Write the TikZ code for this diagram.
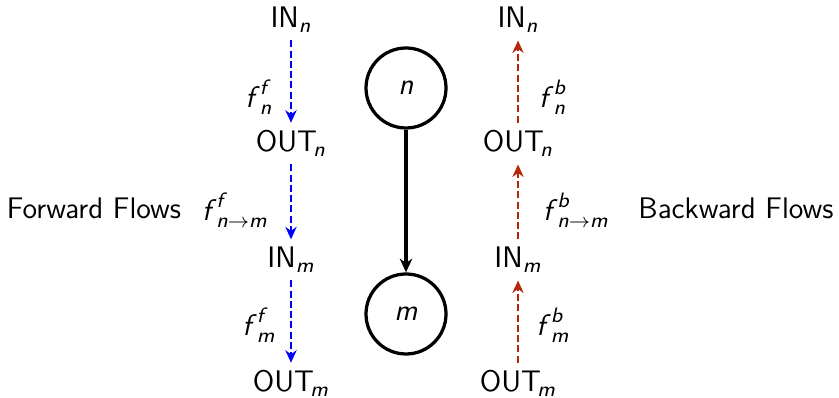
\documentclass[tikz,border=0pt]{standalone}
\usepackage{amsmath}
\usetikzlibrary{arrows.meta}
\definecolor{bwd}{RGB}{178,40,8}
\newcommand{\vi}[1]{\textsf{\textit{#1}}}
\begin{document}
\begin{tikzpicture}[x=0.4pt,y=-0.4pt,
  every node/.style={font=\sffamily\fontsize{11.9}{14}\selectfont},
  lbl/.style={inner sep=2pt},
  port/.style={inner sep=3pt},
  fwd/.style={draw=blue,line width=1.1pt,dash pattern=on 2.8pt off 1.3pt,-{Stealth[length=5pt,width=4.5pt]}},
  bck/.style={draw=bwd,line width=1.1pt,dash pattern=on 2.8pt off 1.3pt,-{Stealth[length=5pt,width=4.5pt]}},
  vertex/.style={circle,draw,line width=1.3pt,minimum size=32pt,inner sep=0pt}]
\useasboundingbox (0,0) rectangle (839,398);
% left column
\node[port,anchor=base] (inn) at (291,28) {IN$_{\vi{n}}$};
\node[port,anchor=base] (outn) at (291,152) {OUT\kern-0.12em$_{\vi{n}}$};
\node[port,anchor=base] (inm) at (291,268) {IN$_{\vi{m}}$};
\node[port,anchor=base] (outm) at (291,392) {OUT\kern-0.12em$_{\vi{m}}$};
% right column
\node[port,anchor=base] (rinn) at (518,28) {IN$_{\vi{n}}$};
\node[port,anchor=base] (routn) at (518,152) {OUT\kern-0.12em$_{\vi{n}}$};
\node[port,anchor=base] (rinm) at (518,268) {IN$_{\vi{m}}$};
\node[port,anchor=base] (routm) at (518,392) {OUT\kern-0.12em$_{\vi{m}}$};
% graph
\node[vertex] (n) at (406,88) {\vi{n}};
\node[vertex] (m) at (406,314) {\vi{m}};
\draw[line width=1.3pt,-{Stealth[length=5.5pt,width=5pt]}] (n) -- (m);
% forward flows
\draw[fwd] (inn) -- (outn);
\draw[fwd] (outn) -- (inm);
\draw[fwd] (inm) -- (outm);
% backward flows
\draw[bck] (routn) -- (rinn);
\draw[bck] (rinm) -- (routn);
\draw[bck] (routm) -- (rinm);
% labels
\node[lbl] (lfn) at (259,97) {$\vi{f}^{\vi{f}}_{\vi{n}}$};
\node[lbl] (lfnm) at (235,210) {$\vi{f}^{\vi{f}}_{\vi{n}\rightarrow\vi{m}}$};
\node[lbl] (lfm) at (259,325) {$\vi{f}^{\vi{f}}_{\vi{m}}$};
\node[lbl] (lbn) at (553,97) {$\vi{f}^{\vi{b}}_{\vi{n}}$};
\node[lbl] (lbnm) at (576,210) {$\vi{f}^{\vi{b}}_{\vi{n}\rightarrow\vi{m}}$};
\node[lbl] (lbm) at (553,325) {$\vi{f}^{\vi{b}}_{\vi{m}}$};
\node (fw) at (94,208) {Forward Flows};
\node (bw) at (736,208) {Backward Flows};
\end{tikzpicture}
\end{document}
